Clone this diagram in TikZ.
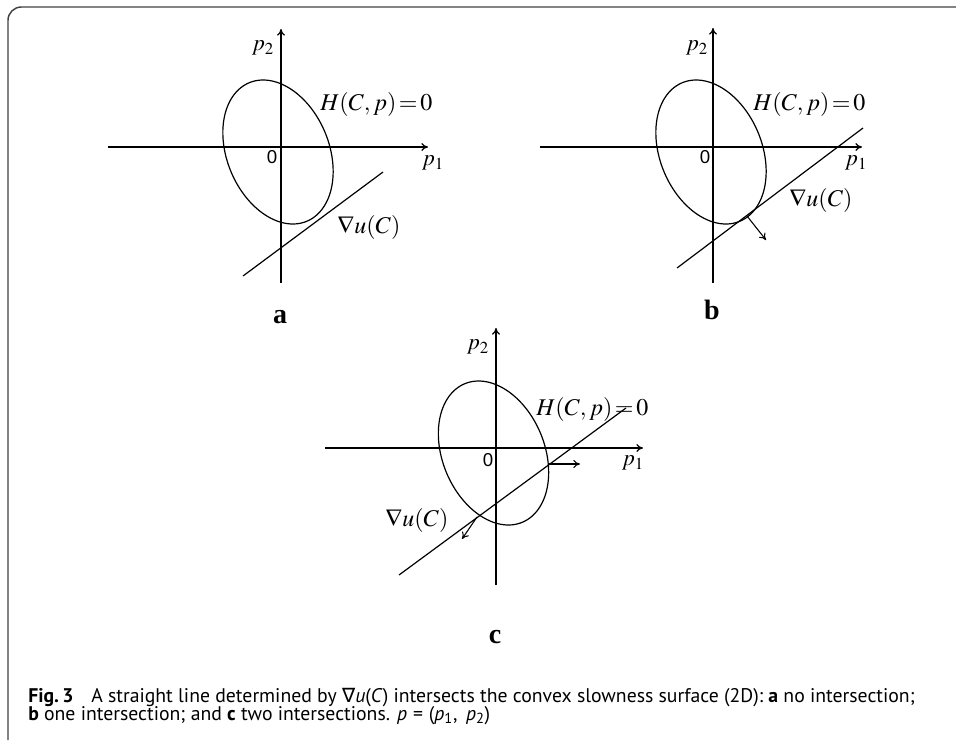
\documentclass[tikz,border=0pt]{standalone}
\usepackage{mathptmx}
\usepackage[no-math]{fontspec}
\newfontfamily\capfont{PT Sans}
\newfontfamily\symfont{DejaVu Sans}
\newfontfamily\numfont{Liberation Sans}
\newfontfamily\lblfont{Liberation Serif}
\usetikzlibrary{arrows.meta}
\tikzset{
  axis/.style={line width=0.9pt, -{To[length=5pt,width=6pt]}},
  curve/.style={line width=0.9pt},
  normalarrow/.style={line width=0.8pt, -{To[length=5pt,width=6pt]}},
  lbl/.style={font=\fontsize{17}{20}\selectfont, inner sep=0pt},
  biglbl/.style={font=\fontsize{18}{21}\selectfont, inner sep=0pt, anchor=base west},
  zero/.style={font=\numfont\fontsize{14}{16}\selectfont, inner sep=0pt},
  tag/.style={font=\lblfont\bfseries\fontsize{21}{24}\selectfont, inner sep=0pt},
  capline/.style={anchor=base west, inner sep=0pt, font=\capfont\fontsize{14.8}{17}\selectfont},
  frame/.style={line width=1.1pt, draw=black!75, rounded corners=10}
}
\newcommand\slowness[2]{%
  \draw[curve] plot[domain=0:360, samples=181, variable=\t]
    ({#1 - 28.7*cos(\t) + 47.1*sin(\t)}, {#2 - 69.3*cos(\t) - 19.5*sin(\t)}) -- cycle;}
\newcommand\Hlabel{$H(C,p)\,{=}\,0$}
\newcommand\Glabel{$\nabla u(C)$}
\begin{document}
\begin{tikzpicture}[x=0.75pt, y=-0.75pt]
\useasboundingbox (0,0) rectangle (956,740);
\draw[frame] (956,7) -- (8,7) -- (8,740);

% ---------- panel a ----------
\coordinate (aYb) at (281,283);
\coordinate (aYt) at (281,29);
\coordinate (aXl) at (108,147);
\coordinate (aXr) at (428,147);
\draw[axis] (aYb) -- (aYt);
\draw[axis] (aXl) -- (aXr);
\slowness{278}{152}
\coordinate (aL1) at (243,276);
\coordinate (aL2) at (383,172);
\draw[curve] (aL1) -- (aL2);
\node[lbl] (a-p2) at (263,48) {$p_2$};
\node[biglbl] (a-H) at (320,110) {\Hlabel};
\node[biglbl] (a-g) at (337,233) {\Glabel};
\node[lbl] (a-p1) at (433,163) {$p_1$};
\node[zero] (a-0) at (272,157) {0};
\node[tag] (a-t) at (280,317) {a};

% ---------- panel b ----------
\coordinate (bYb) at (713,283);
\coordinate (bYt) at (713,28);
\coordinate (bXl) at (540,147);
\coordinate (bXr) at (862,147);
\draw[axis] (bYb) -- (bYt);
\draw[axis] (bXl) -- (bXr);
\slowness{711}{152}
\coordinate (bL1) at (677,268);
\coordinate (bL2) at (863,128);
\draw[curve] (bL1) -- (bL2);
\coordinate (bT) at (747,216);
\coordinate (bN) at (766,240);
\draw[normalarrow] (bT) -- (bN);
\node[lbl] (b-p2) at (697,48) {$p_2$};
\node[biglbl] (b-H) at (753,110) {\Hlabel};
\node[biglbl] (b-g) at (789,206) {\Glabel};
\node[lbl] (b-p1) at (856,163) {$p_1$};
\node[zero] (b-0) at (705,157) {0};
\node[tag] (b-t) at (712,310) {b};

% ---------- panel c ----------
\coordinate (cYb) at (496,585);
\coordinate (cYt) at (496,328);
\coordinate (cXl) at (325,448);
\coordinate (cXr) at (643,448);
\draw[axis] (cYb) -- (cYt);
\draw[axis] (cXl) -- (cXr);
\slowness{493.5}{453}
\coordinate (cL1) at (399,575);
\coordinate (cL2) at (626,408);
\draw[curve] (cL1) -- (cL2);
\coordinate (cT1) at (548,464);
\coordinate (cN1) at (580,464);
\draw[normalarrow] (cT1) -- (cN1);
\coordinate (cT2) at (477,517);
\coordinate (cN2) at (462,539);
\draw[normalarrow] (cT2) -- (cN2);
\node[lbl] (c-p2) at (478,347) {$p_2$};
\node[biglbl] (c-H) at (536,415) {\Hlabel};
\node[biglbl] (c-g) at (385,526) {\Glabel};
\node[lbl] (c-p1) at (633,463) {$p_1$};
\node[zero] (c-0) at (488,460) {0};
\node[tag] (c-t) at (495,637) {c};

% ---------- caption ----------
\node[capline] (cap1) at (28,702) {\textbf{Fig.\,3}\hspace{0.9em}A straight line determined by {\symfont ∇}\textit{u}(\textit{C}) intersects the convex slowness surface (2D): \textbf{a} no intersection;};
\node[capline] (cap2) at (28,720) {\textbf{b} one intersection; and \textbf{c} two intersections. \textit{p}\hspace{0.3em}=\hspace{0.3em}(\textit{p}\textsubscript{1},\, \textit{p}\textsubscript{2})};
\end{tikzpicture}
\end{document}
